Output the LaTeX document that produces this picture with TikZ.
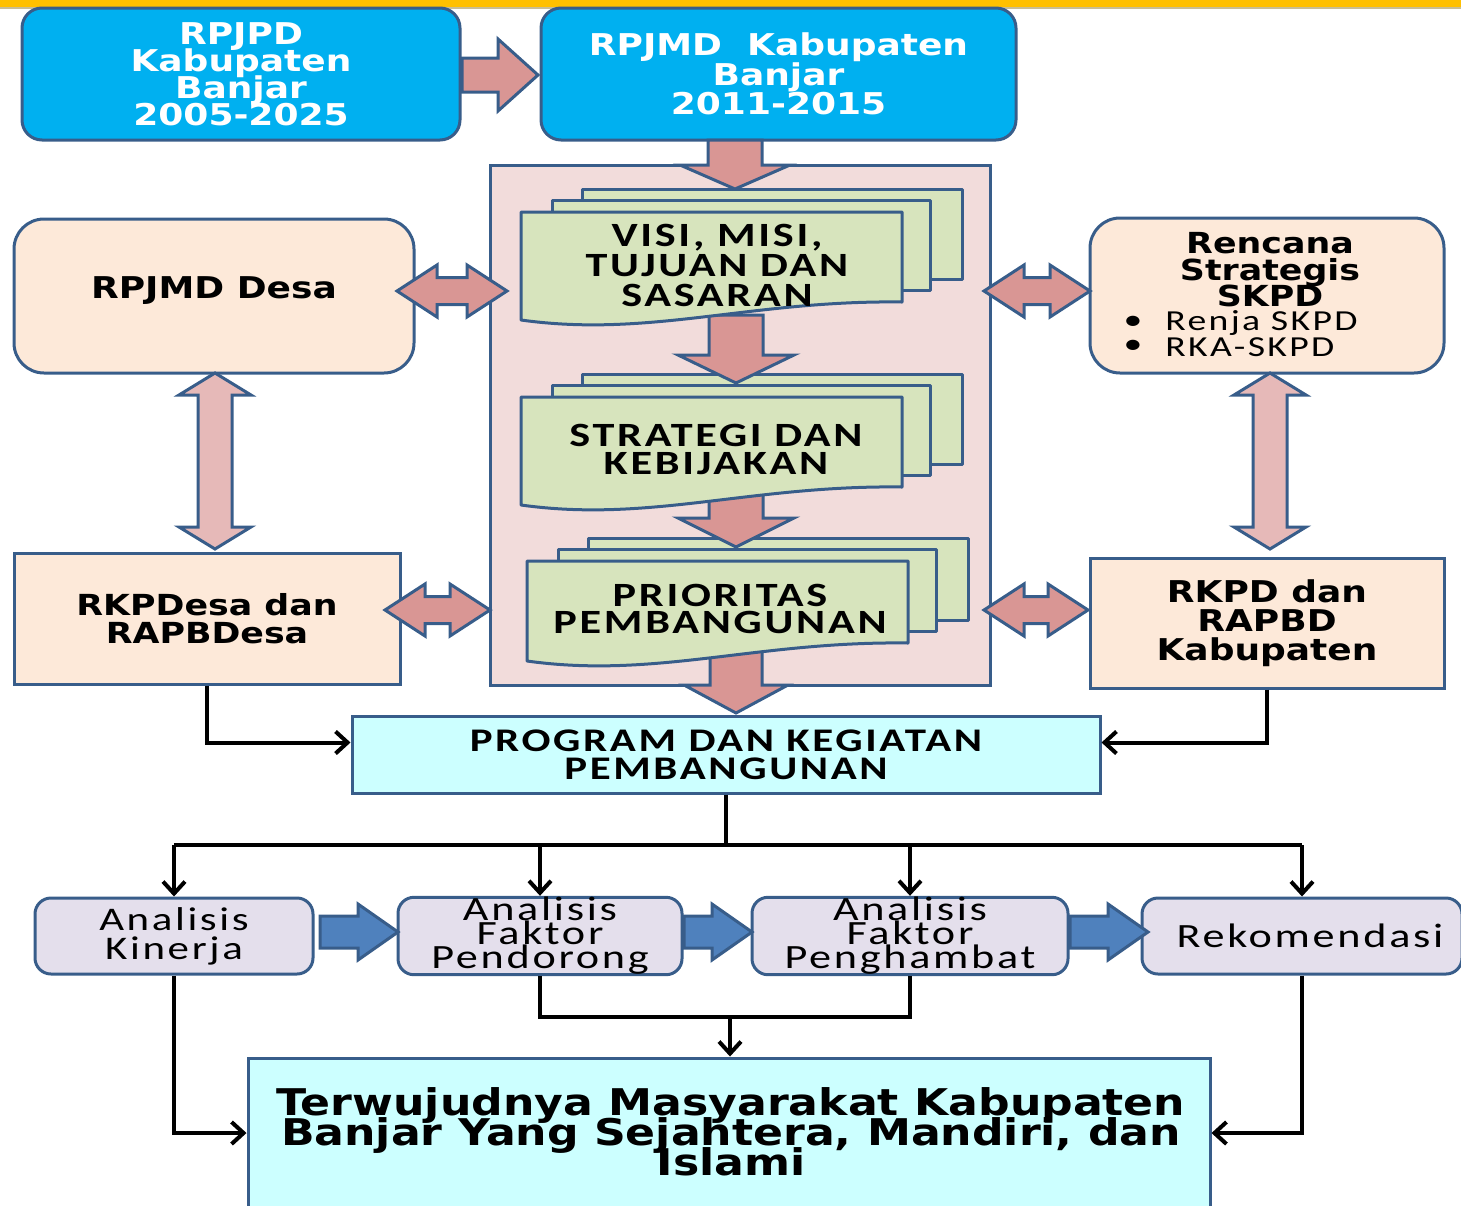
\documentclass[tikz,border=0pt]{standalone}
\usepackage{fontspec}
\usetikzlibrary{arrows.meta,calc}
\newfontfamily\vfont{DejaVu Sans}[FakeStretch=1.2]
\newfontfamily\cfont{Carlito}[FakeStretch=1.3,LetterSpace=8]
% lines of a label may sit closer than their glyph heights
\newcommand\snug{\lineskiplimit=-100pt\lineskip=0pt\relax}

\definecolor{edge}{RGB}{56,93,138}
\definecolor{skyblue}{RGB}{0,176,240}
\definecolor{panelpink}{RGB}{242,220,219}
\definecolor{docgreen}{RGB}{215,228,189}
\definecolor{rose}{RGB}{217,150,148}
\definecolor{roselight}{RGB}{230,185,184}
\definecolor{peach}{RGB}{253,233,217}
\definecolor{aqua}{RGB}{204,255,255}
\definecolor{lavender}{RGB}{228,223,236}
\definecolor{steel}{RGB}{79,129,189}
\definecolor{gold}{RGB}{255,192,0}
\definecolor{tan}{RGB}{200,190,150}

% block arrow pointing right: style, x start, x tip, y, shaft half, head half, head length
\newcommand\blockright[7]{\draw[#1] (#2,#4-#5) -- (#3-#7,#4-#5) -- (#3-#7,#4-#6) -- (#3,#4)
  -- (#3-#7,#4+#6) -- (#3-#7,#4+#5) -- (#2,#4+#5) -- cycle;}
% block arrow pointing down: style, x, y start, y tip, shaft half, head half, head length
\newcommand\blockdown[7]{\draw[#1] (#2-#5,#3) -- (#2-#5,#4-#7) -- (#2-#6,#4-#7) -- (#2,#4)
  -- (#2+#6,#4-#7) -- (#2+#5,#4-#7) -- (#2+#5,#3) -- cycle;}
% horizontal double arrow: style, left tip, right tip, y
\newcommand\blockboth[4]{\draw[#1] (#2,#4) -- (#2+40,#4-26) -- (#2+40,#4-13.5) -- (#3-40,#4-13.5)
  -- (#3-40,#4-26) -- (#3,#4) -- (#3-40,#4+26) -- (#3-40,#4+13.5) -- (#2+40,#4+13.5)
  -- (#2+40,#4+26) -- cycle;}
% vertical double arrow: style, x, top tip, bottom tip
\newcommand\blockupdown[4]{\draw[#1] (#2,#3) -- (#2+36,#3+22) -- (#2+17,#3+22) -- (#2+17,#4-22)
  -- (#2+36,#4-22) -- (#2,#4) -- (#2-36,#4-22) -- (#2-17,#4-22) -- (#2-17,#3+22)
  -- (#2-36,#3+22) -- cycle;}
% stack of three pages, the front one with a wavy lower edge:
% left x of front page, top y of front page, height at its right edge
\newcommand\pagestack[3]{%
  \draw[page] (#1+61,#2-23) rectangle (#1+441,#2-23+#3);
  \draw[page] (#1+31,#2-12) rectangle (#1+409,#2-12+#3);
  \draw[page] (#1,#2+#3+18) -- (#1,#2) -- (#1+381,#2) -- (#1+381,#2+#3)
    .. controls (#1+229,#2+#3-2) and (#1+129,#2+#3+36) .. (#1,#2+#3+18) -- cycle;}

\begin{document}
\begin{tikzpicture}[x=0.5pt,y=-0.5pt,
  frame/.style={draw=edge, line width=1.5pt, align=center, inner sep=0pt},
  bluebox/.style={frame, fill=skyblue, rounded corners=10pt, text=white},
  peachround/.style={frame, fill=peach, rounded corners=15pt},
  peachbox/.style={frame, fill=peach},
  aquabox/.style={frame, fill=aqua},
  lavbox/.style={frame, fill=lavender, rounded corners=8pt},
  panelbox/.style={frame, fill=panelpink},
  page/.style={draw=edge, line width=1.5pt, fill=docgreen, line join=round},
  rosearrow/.style={draw=edge, line width=1.5pt, fill=rose},
  palearrow/.style={draw=edge, line width=1.5pt, fill=roselight},
  bluearrow/.style={draw=edge, line width=1.5pt, fill=steel},
  wire/.style={draw=black, line width=2pt},
  link/.style={wire, -{Straight Barb[length=6pt,width=11pt]}},
  pagefont/.style={font=\cfont\bfseries\fontsize{17pt}{15pt}\selectfont\snug},
  stepfont/.style={font=\cfont\fontsize{17pt}{12pt}\selectfont\snug},
]
\useasboundingbox (0,0) rectangle (1461,1205);
\clip (0,0) rectangle (1461,1205);

% top band
\fill[gold] (0,0) rectangle (1461,7);
\draw[tan, line width=0.8pt] (0,8) -- (1461,8);

% long and medium term plans
\node[bluebox, font=\vfont\bfseries\fontsize{15pt}{13.5pt}\selectfont\snug,
  minimum width=219pt, minimum height=66pt] (rpjpd) at (241,74)
  {RPJPD\\Kabupaten\\Banjar\\2005-2025};
\node[bluebox, font=\vfont\bfseries\fontsize{15pt}{14.75pt}\selectfont\snug,
  minimum width=237.5pt, minimum height=66pt] (rpjmd) at (778.5,74)
  {RPJMD\ \ Kabupaten\\Banjar\\2011-2015};
\blockright{rosearrow}{462}{538}{75}{17}{36}{40}

% side boxes
\node[peachround, minimum width=200pt, minimum height=77pt] (desa) at (214,296) {};
\node[font=\vfont\bfseries\fontsize{15pt}{14pt}\selectfont] (desatext) at (214,291) {RPJMD Desa};
\node[peachround, minimum width=177pt, minimum height=77.5pt] (renstra) at (1267,295.5) {};
\node[font=\vfont\bfseries\fontsize{14.5pt}{13.3pt}\selectfont\snug, align=center]
  (renstratitle) at (1270,270) {Rencana\\Strategis\\SKPD};
\node[font=\cfont\fontsize{14.5pt}{12pt}\selectfont] (bul1) at (1133,323) {\textbullet};
\node[font=\cfont\fontsize{14.5pt}{12pt}\selectfont, anchor=west, inner xsep=0pt] (renja) at (1165,323) {Renja SKPD};
\node[font=\cfont\fontsize{14.5pt}{12pt}\selectfont] (bul2) at (1133,347) {\textbullet};
\node[font=\cfont\fontsize{14.5pt}{12pt}\selectfont, anchor=west, inner xsep=0pt] (rka) at (1165,347) {RKA-SKPD};
\node[peachbox, font=\vfont\bfseries\fontsize{14.5pt}{14pt}\selectfont\snug,
  minimum width=193pt, minimum height=65.5pt] (rkpdesa) at (207,618.5) {RKPDesa dan\\RAPBDesa};
\node[peachbox, font=\vfont\bfseries\fontsize{15pt}{14.5pt}\selectfont\snug,
  minimum width=177pt, minimum height=65pt] (rkpd) at (1267,623) {RKPD dan\\RAPBD\\Kabupaten};

% central panel
\node[panelbox, minimum width=250pt, minimum height=260pt] (panel) at (740,425) {};

% links between side boxes and panel
\blockboth{rosearrow}{397}{507}{291}
\blockboth{rosearrow}{984}{1090}{291}
\blockboth{rosearrow}{385}{490}{610}
\blockboth{rosearrow}{984}{1088}{610}
\blockupdown{palearrow}{215}{373}{549}
\blockupdown{palearrow}{1270}{373}{549}

% flow through the panel
\blockdown{rosearrow}{735}{140}{189}{27}{55}{24}
\blockdown{rosearrow}{736}{640}{713}{26}{52}{28}
\pagestack{527}{561}{82}
\blockdown{rosearrow}{736}{485}{547}{27}{58}{29}
\pagestack{521}{397}{90}
\blockdown{rosearrow}{736}{315}{383}{27}{58}{28}
\pagestack{521}{212}{90}

\node[pagefont, align=center] (visi) at (717,265) {VISI, MISI,\\TUJUAN DAN\\SASARAN};
\node[font=\cfont\bfseries\fontsize{17pt}{14pt}\selectfont\snug, align=center] (strategi) at (716,449)
  {STRATEGI DAN\\KEBIJAKAN};
\node[font=\cfont\bfseries\fontsize{17pt}{13.5pt}\selectfont\snug, align=center] (prioritas) at (720,608.5)
  {PRIORITAS\\PEMBANGUNAN};

% programmes
\node[aquabox, font=\cfont\bfseries\fontsize{16.5pt}{14pt}\selectfont\snug,
  minimum width=374pt, minimum height=38.5pt] (program) at (726,754.5)
  {PROGRAM DAN KEGIATAN\\PEMBANGUNAN};
\draw[link] (rkpdesa.south) |- ([yshift=6pt]program.west);
\draw[link] (rkpd.south) |- ([yshift=6pt]program.east);

% analysis steps
\node[lavbox, font=\cfont\fontsize{16.5pt}{14.5pt}\selectfont\snug,
  minimum width=139pt, minimum height=38pt] (kinerja) at (174,936) {Analisis\\Kinerja};
\node[lavbox, stepfont, minimum width=142pt, minimum height=38pt] (pendorong) at (540,936)
  {Analisis\\Faktor\\Pendorong};
\node[lavbox, stepfont, minimum width=158pt, minimum height=38pt] (penghambat) at (910,936)
  {Analisis\\Faktor\\Penghambat};
\node[lavbox, stepfont, minimum width=160pt, minimum height=38pt] (rekom) at (1302,936)
  {\hspace*{8pt}Rekomendasi};
\blockright{bluearrow}{320}{398}{932}{16}{28}{40}
\blockright{bluearrow}{684}{752}{932}{16}{28}{40}
\blockright{bluearrow}{1070}{1148}{932}{16}{28}{40}

\coordinate (fan) at (726,845);
\draw[wire] (program.south) -- (fan);
\draw[wire] (kinerja.north |- fan) -- (rekom.north |- fan);
\draw[link] (kinerja.north |- fan) -- (kinerja.north);
\draw[link] (pendorong.north |- fan) -- (pendorong.north);
\draw[link] (penghambat.north |- fan) -- (penghambat.north);
\draw[link] (rekom.north |- fan) -- (rekom.north);

% goal
\node[aquabox, minimum width=481pt, minimum height=86pt] (goalbox) at (729,1144) {};
\node[font=\vfont\bfseries\fontsize{18.4pt}{15pt}\selectfont\snug, align=center] (goal) at (731,1132)
  {Terwujudnya Masyarakat Kabupaten\\Banjar Yang Sejahtera, Mandiri, dan\\Islami};

\coordinate (merge) at (730,1017);
\draw[wire] (pendorong.south) |- (merge) -| (penghambat.south);
\draw[link] (merge) -- (merge |- goalbox.north);
\draw[link] (kinerja.south) |- ([yshift=5.5pt]goalbox.west);
\draw[link] (rekom.south) |- ([yshift=5.5pt]goalbox.east);
\end{tikzpicture}
\end{document}
